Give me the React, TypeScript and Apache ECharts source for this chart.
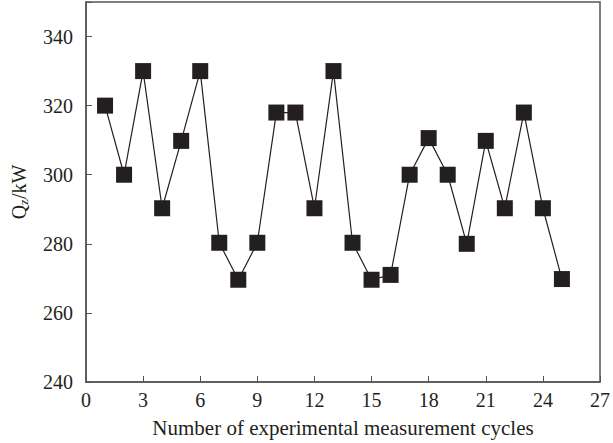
import React, { useEffect, useRef } from "react";
import * as echarts from "echarts";

const cycles = [1, 2, 3, 4, 5, 6, 7, 8, 9, 10, 11, 12, 13, 14, 15, 16, 17, 18, 19, 20, 21, 22, 23, 24, 25];
const qz = [320, 300, 330, 290.3, 309.8, 330, 280.3, 269.6, 280.3, 318, 318, 290.3, 330, 280.3, 269.6, 271, 300, 310.6, 300, 280, 309.8, 290.3, 318, 290.3, 269.8];
const xTicks = { min: 0, max: 27, interval: 3 };
const yTicks = { min: 240, max: 350, interval: 20 };

export default function App() {
  const ref = useRef<HTMLDivElement>(null);
  useEffect(() => {
    if (!ref.current) return;
    document.body.style.margin = "0";
    const chart = echarts.init(ref.current, null, { renderer: "svg" });
    const font = "'Liberation Serif', 'DejaVu Serif', serif";
    const axisColor = "#555";
    const textColor = "#231f20";
    chart.setOption({
      animation: false,
      grid: { left: 86, top: 2, right: 11, bottom: 61, show: true, borderColor: axisColor, borderWidth: 1.5, containLabel: false },
      xAxis: {
        type: "value",
        min: xTicks.min,
        max: xTicks.max,
        interval: xTicks.interval,
        name: "Number of experimental measurement cycles",
        nameLocation: "middle",
        nameGap: 35,
        nameTextStyle: { fontFamily: font, fontSize: 21, color: textColor },
        axisLine: { show: true, lineStyle: { color: axisColor, width: 1.5 } },
        axisTick: { show: true, inside: true, length: 6, lineStyle: { color: axisColor } },
        axisLabel: { fontFamily: font, fontSize: 20, color: textColor, margin: 8 },
        splitLine: { show: false },
      },
      yAxis: {
        type: "value",
        min: yTicks.min,
        max: yTicks.max,
        interval: yTicks.interval,
        name: "{a|Q}{s|z}{a|/kW}",
        nameLocation: "middle",
        nameGap: 56,
        nameRotate: 90,
        nameTextStyle: {
          rich: {
            a: { fontFamily: font, fontSize: 20, color: textColor },
            s: { fontFamily: font, fontSize: 13, color: textColor, verticalAlign: "bottom", padding: [10, 0, 0, 0] },
          },
        },
        axisLine: { show: true, lineStyle: { color: axisColor, width: 1.5 } },
        axisTick: { show: true, inside: true, length: 6, lineStyle: { color: axisColor } },
        axisLabel: {
          fontFamily: font,
          fontSize: 20,
          color: textColor,
          margin: 13,
          formatter: (v: number) => (v > 340 ? "" : String(v)),
        },
        splitLine: { show: false },
      },
      series: [
        {
          type: "line",
          data: cycles.map((c, i) => [c, qz[i]]),
          symbol: "rect",
          symbolSize: 16,
          itemStyle: { color: textColor },
          lineStyle: { color: textColor, width: 1.2 },
        },
      ],
    });
    return () => chart.dispose();
  }, []);
  return <div ref={ref} style={{ width: 613, height: 443 }} />;
}
